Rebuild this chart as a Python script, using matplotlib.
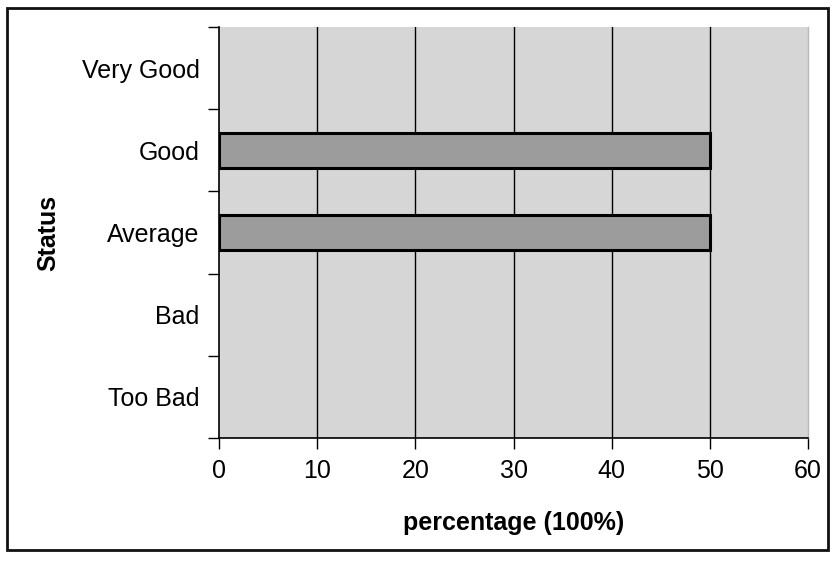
import matplotlib
matplotlib.use("Agg")
import matplotlib.pyplot as plt
from matplotlib.patches import Rectangle
import numpy as np

plt.rcParams['font.family'] = ['Liberation Sans', 'DejaVu Sans']

categories = ["Very Good", "Good", "Average", "Bad", "Too Bad"]
percentages = [0, 50, 50, 0, 0]
x_ticks = [0, 10, 20, 30, 40, 50, 60]

fig = plt.figure(figsize=(8.33, 5.62), dpi=100)
fig.patch.set_facecolor("white")

# outer frame around the whole chart
fig.patches.append(Rectangle((0.008, 0.021), 0.986, 0.965, transform=fig.transFigure,
                             fill=False, edgecolor="#111111", linewidth=2.0))

ax = fig.add_axes([0.263, 0.2206, 0.707, 0.7313])
ax.set_facecolor("#d6d6d6")

y = np.arange(len(categories))
edge_widths = [2.2 if v > 0 else 0.0 for v in percentages]
ax.barh(y, percentages, height=0.42, color="#9c9c9c", edgecolor="black",
        linewidth=edge_widths, zorder=3)

ax.set_xlim(0, 60)
ax.set_ylim(len(categories) - 0.5, -0.5)

# vertical gridlines
for xv in x_ticks[1:-1]:
    ax.axvline(xv, color="black", linewidth=1.0, zorder=2)

ax.set_xticks(x_ticks)
ax.set_xticklabels([str(v) for v in x_ticks], fontsize=18)
ax.tick_params(axis="x", direction="out", length=8, width=1, pad=7, colors="black")

ax.set_yticks(y)
ax.set_yticklabels(categories, fontsize=18)
ax.tick_params(axis="y", which="major", length=0, pad=14)
ax.set_yticks(np.arange(-0.5, len(categories), 1.0), minor=True)
ax.tick_params(axis="y", which="minor", direction="out", length=8, width=1)

ax.spines["top"].set_visible(False)
ax.spines["right"].set_color("#b8b8b8")
ax.spines["right"].set_linewidth(1.0)
ax.spines["left"].set_linewidth(1.2)
ax.spines["bottom"].set_linewidth(1.2)

ax.set_xlabel("percentage (100%)", fontsize=18, fontweight="bold", labelpad=20)
ax.set_ylabel("Status", fontsize=18, fontweight="bold")
ax.yaxis.set_label_coords(-0.27, 0.5)

fig.savefig("out.png", dpi=100)
